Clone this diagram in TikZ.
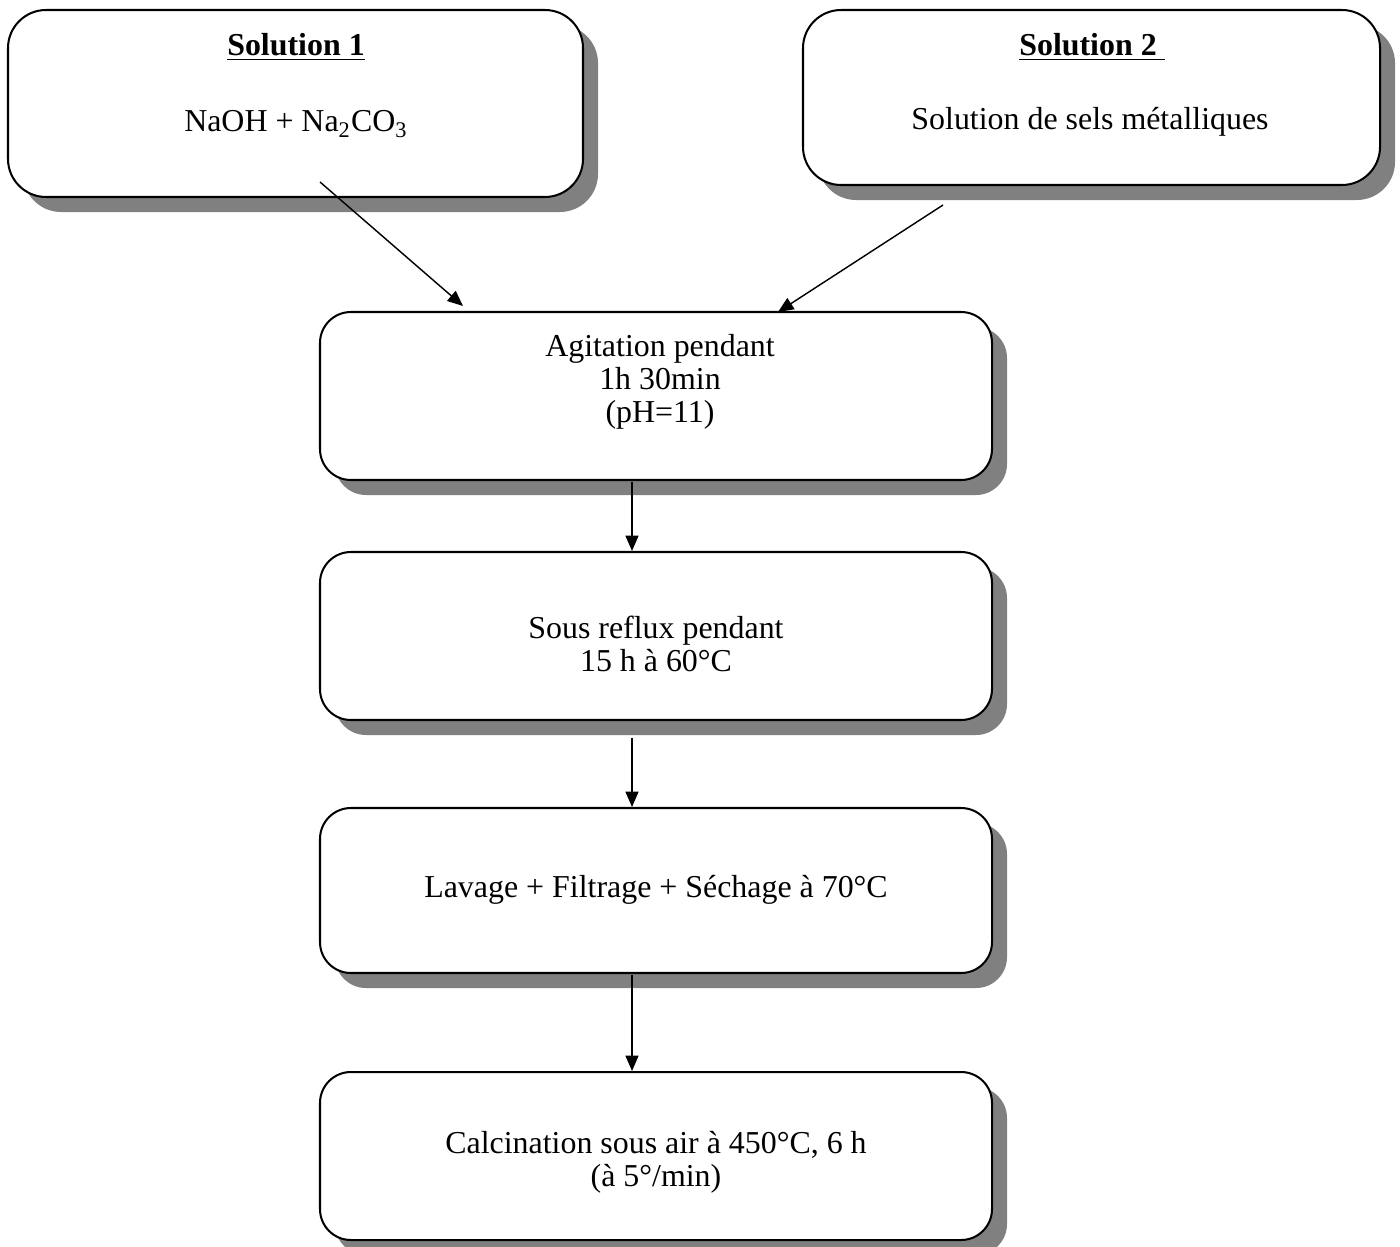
\documentclass[tikz,border=0pt]{standalone}
\usepackage{fontspec}
\setmainfont{Liberation Serif}
\usetikzlibrary{shadows,arrows.meta}
\definecolor{shadowgray}{RGB}{128,128,128}
\tikzset{
  procbox/.style={draw=black, line width=0.85pt, fill=white, rounded corners=13pt,
    inner sep=0pt,
    general shadow={fill=shadowgray, shadow xshift=6.3pt, shadow yshift=-6.3pt}},
  solbox/.style={procbox, rounded corners=16pt},
  txt/.style={font=\fontsize{13.4}{13.9}\selectfont, align=center, inner sep=0pt},
  btxt/.style={txt, font=\fontsize{13.4}{13.9}\selectfont\bfseries},
  arr/.style={line width=0.6pt, -{Triangle[length=6.5pt,width=5.5pt]}}
}
\begin{document}
\begin{tikzpicture}[x=0.42pt,y=-0.42pt]
\useasboundingbox (0,0) rectangle (1400,1247);
% boxes
\node[solbox, minimum width={575*0.42pt}, minimum height={187*0.42pt}] (b1) at (295.5,103.5) {};
\node[solbox, minimum width={577*0.42pt}, minimum height={175*0.42pt}] (b2) at (1091.5,97.5) {};
\node[procbox, minimum width={672*0.42pt}, minimum height={168*0.42pt}] (b3) at (656,396) {};
\node[procbox, minimum width={672*0.42pt}, minimum height={168*0.42pt}] (b4) at (656,636) {};
\node[procbox, minimum width={672*0.42pt}, minimum height={165*0.42pt}] (b5) at (656,890.5) {};
\node[procbox, minimum width={672*0.42pt}, minimum height={168*0.42pt}] (b6) at (656,1156) {};
% texts
\node[btxt] (t1a) at (296,47) {\underline{Solution 1}};
\node[txt] (t1b) at (296,124) {NaOH + Na\textsubscript{2}CO\textsubscript{3}};
\node[btxt] (t2a) at (1092,47) {\underline{Solution 2\ }};
\node[txt] (t2b) at (1090,122) {Solution de sels métalliques};
\node[txt] (t3) at (660,382) {Agitation pendant\\1h 30min\\(pH=11)};
\node[txt] (t4) at (656,644) {Sous reflux pendant\\15 h à 60°C};
\node[txt] (t5) at (656,890) {Lavage + Filtrage + Séchage à 70°C};
\node[txt] (t6) at (656,1162) {Calcination sous air à 450°C, 6 h\\(à 5°/min)};
% arrows
\coordinate (s1) at (320,182);
\coordinate (e1) at (463,306);
\coordinate (s2) at (943,205);
\coordinate (e2) at (778,312);
\coordinate (vx) at (632,0);
\draw[arr] (s1) -- (e1);
\draw[arr] (s2) -- (e2);
\draw[arr] ([yshift=-0.4pt]b3.south -| vx) -- (b4.north -| vx);
\draw[arr] ([yshift=-7pt]b4.south -| vx) -- (b5.north -| vx);
\draw[arr] ([yshift=-0.4pt]b5.south -| vx) -- (b6.north -| vx);
\end{tikzpicture}
\end{document}
